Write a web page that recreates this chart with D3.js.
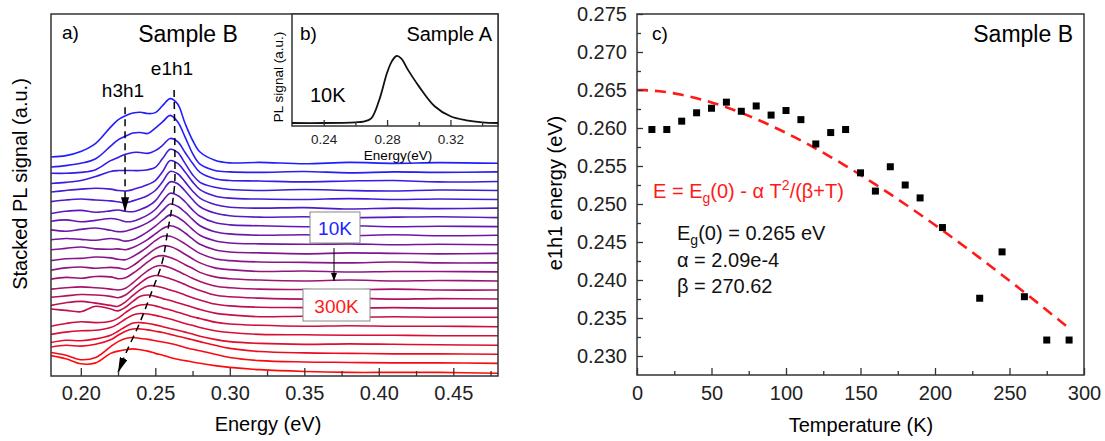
<!DOCTYPE html>
<html>
<head>
<meta charset="utf-8">
<script src="https://cdn.jsdelivr.net/npm/d3@7"></script>
<style>
  body { margin: 0; background: #fff; }
  svg { font-family: "Liberation Sans", Arial, sans-serif; }
</style>
</head>
<body>
<svg id="chart" width="1105" height="441"></svg>
<script>
// ---- panel a) stacked PL spectra, sample B (top row = 10K, bottom row = 300K)
const energyGrid = [0.18,0.19,0.20,0.21,0.22,0.225,0.23,0.235,0.24,0.245,0.25,0.255,0.26,0.265,0.27,0.275,0.28,0.29,0.30,0.32,0.35,0.38,0.41,0.44,0.48];
const spectra = [
  [0.70,0.85,1.30,2.20,4.00,4.80,5.25,5.55,5.65,5.50,5.60,6.40,7.15,6.55,4.40,2.55,1.25,0.35,0.05,0.10,-0.05,0.10,0.00,0.08,0.00],
  [0.60,0.75,1.00,1.50,2.90,3.60,4.00,4.35,4.40,4.30,4.90,5.60,6.30,5.60,3.90,2.10,0.90,0.20,0.05,0.00,0.10,-0.05,0.05,0.00,0.05],
  [0.90,0.90,1.00,1.30,2.30,2.65,3.00,3.20,3.20,3.10,3.40,4.00,4.75,4.40,3.20,2.00,1.00,0.30,0.10,0.05,-0.05,0.05,0.10,-0.05,0.00],
  [0.77,0.90,1.10,1.55,2.10,2.20,2.20,2.20,2.20,2.30,2.55,3.55,4.55,4.20,3.00,1.75,0.90,0.35,0.10,0.00,0.10,0.00,-0.05,0.05,0.00],
  [0.83,1.00,1.15,1.25,1.15,1.00,0.95,1.10,1.35,1.65,2.10,3.10,4.30,4.00,3.05,1.95,1.10,0.40,0.15,0.05,0.00,0.10,0.00,0.05,0.00],
  [0.77,0.95,1.05,0.95,0.85,0.75,0.65,0.85,1.10,1.45,2.00,3.00,4.10,3.85,2.95,1.95,1.15,0.45,0.15,0.05,0.10,-0.05,0.05,0.00,0.05],
  [0.45,0.70,0.80,0.60,0.75,0.85,0.70,0.65,0.90,1.25,1.85,2.95,3.95,3.75,2.95,2.00,1.20,0.50,0.20,0.05,0.10,0.00,0.05,0.10,0.00],
  [0.60,0.75,0.55,0.70,0.90,0.80,0.55,0.60,0.90,1.30,1.90,2.85,3.70,3.45,2.75,1.85,1.15,0.45,0.20,0.10,0.00,0.10,0.00,0.05,0.00],
  [0.65,0.50,0.70,0.85,0.60,0.45,0.50,0.75,1.05,1.45,2.00,2.80,3.50,3.25,2.60,1.80,1.10,0.45,0.20,0.05,0.10,0.00,0.10,0.00,0.05],
  [0.55,0.70,0.60,0.50,0.70,0.60,0.40,0.55,0.95,1.45,2.05,2.75,3.30,3.05,2.45,1.70,1.05,0.45,0.20,0.10,0.05,0.10,0.00,0.05,0.00],
  [0.45,0.60,0.75,0.55,0.50,0.55,0.45,0.70,1.10,1.60,2.20,2.80,3.10,2.85,2.30,1.65,1.05,0.45,0.20,0.10,0.00,0.10,0.05,0.00,0.05],
  [0.25,0.45,0.50,0.65,0.55,0.40,0.35,0.70,1.20,1.80,2.45,2.95,2.95,2.60,2.10,1.55,1.05,0.45,0.25,0.10,0.05,0.00,0.10,0.00,0.00],
  [0.20,0.45,0.55,0.40,0.50,0.45,0.30,0.70,1.30,1.95,2.55,2.90,2.80,2.45,1.95,1.45,1.00,0.45,0.25,0.05,0.10,0.00,0.05,0.05,0.00],
  [0.20,0.40,0.30,0.50,0.45,0.25,0.35,0.85,1.45,2.10,2.65,2.80,2.60,2.25,1.80,1.40,0.95,0.45,0.25,0.10,0.00,0.10,0.00,0.05,0.00],
  [0.10,0.25,0.35,0.25,0.10,0.00,0.20,0.80,1.50,2.15,2.60,2.70,2.45,2.10,1.70,1.30,0.95,0.45,0.25,0.10,0.05,0.00,0.10,0.00,0.00],
  [0.20,0.35,0.50,0.45,0.30,0.15,0.45,1.10,1.80,2.35,2.60,2.50,2.25,1.95,1.60,1.25,0.95,0.45,0.25,0.10,0.00,0.10,0.00,0.05,0.00],
  [0.30,0.60,0.75,0.55,0.30,0.20,0.70,1.40,2.05,2.45,2.45,2.25,2.00,1.75,1.45,1.15,0.90,0.45,0.25,0.10,0.05,0.00,0.05,0.00,0.00],
  [0.90,0.75,0.60,1.20,0.90,0.70,1.10,1.75,2.30,2.45,2.30,2.05,1.85,1.60,1.35,1.10,0.85,0.45,0.25,0.05,0.10,0.00,0.05,0.00,0.00],
  [0.00,0.30,0.50,0.40,0.55,0.90,1.50,2.05,2.35,2.40,2.25,2.00,1.80,1.55,1.30,1.05,0.85,0.45,0.25,0.10,0.00,0.05,0.00,0.00,-0.05],
  [0.10,0.35,0.50,0.55,0.85,1.25,1.80,2.25,2.40,2.35,2.20,2.00,1.80,1.55,1.30,1.10,0.85,0.50,0.30,0.10,0.05,0.00,0.00,-0.05,-0.05],
  [0.20,0.45,0.40,0.60,1.00,1.45,1.95,2.35,2.40,2.30,2.15,1.95,1.75,1.55,1.35,1.15,0.90,0.55,0.30,0.10,0.00,0.05,0.00,-0.05,-0.10],
  [0.70,0.90,0.80,1.00,1.50,2.00,2.45,2.70,2.70,2.60,2.45,2.30,2.10,1.90,1.70,1.50,1.30,0.90,0.55,0.20,0.05,0.00,-0.05,-0.05,-0.10],
  [1.10,0.80,0.30,0.55,1.75,2.30,2.65,2.75,2.65,2.55,2.40,2.25,2.10,1.90,1.65,1.45,1.30,0.90,0.55,0.20,0.05,0.00,-0.05,-0.05,-0.10],
  [1.75,1.40,0.85,0.95,2.00,2.25,2.40,2.50,2.40,2.25,2.00,1.80,1.55,1.35,1.20,1.05,0.90,0.65,0.45,0.20,0.00,-0.10,-0.10,-0.10,-0.20]
];
const energyTicks = [0.20,0.25,0.30,0.35,0.40,0.45];
const energyMinor = [0.225,0.275,0.325,0.375,0.425,0.475];
// guide arrows, in (energy, stacked signal)
const h3h1Guide = [[0.2297,29.7],[0.2297,18.1]];
const e1h1Guide = [[0.2626,31.6],[0.2632,22.2],[0.2612,18.7],[0.2585,16.2],[0.2545,12.5],[0.2471,9.1],[0.2391,5.7],[0.2310,2.8],[0.2250,0.4]];

// ---- panel b) inset, sample A at 10K
const insetEnergy = [0.22,0.24,0.26,0.265,0.27,0.275,0.28,0.283,0.286,0.289,0.293,0.30,0.31,0.32,0.33,0.34,0.35];
const insetSignal = [0.00,0.00,0.01,0.02,0.07,0.34,0.75,0.92,1.00,0.96,0.80,0.55,0.25,0.10,0.04,0.01,0.00];
const insetTicks = [0.24,0.28,0.32];
const insetMinor = [0.26,0.30,0.34];

// ---- panel c) e1h1 energy vs temperature
const temperature = [10,20,30,40,50,60,70,80,90,100,110,120,130,140,150,160,170,180,190,205,230,245,260,275,290];
const e1h1Energy = [0.2598,0.2598,0.2609,0.2620,0.2626,0.2634,0.2622,0.2629,0.2617,0.2623,0.2611,0.2579,0.2594,0.2598,0.2541,0.2517,0.2549,0.2525,0.2508,0.2469,0.2376,0.2437,0.2378,0.2321,0.2321];
const fitEg0 = 0.265, fitAlpha = 2.09e-4, fitBeta = 270.62;
const tempTicks = [0,50,100,150,200,250,300];
const tempMinor = [25,75,125,175,225,275];
const eTicks = [0.230,0.235,0.240,0.245,0.250,0.255,0.260,0.265,0.270,0.275];
const eMinor = [0.2325,0.2375,0.2425,0.2475,0.2525,0.2575,0.2625,0.2675,0.2725];

const svg = d3.select("#chart");
const frameColor = "#333";
const defs = svg.append("defs");
function marker(id, len, wid, color){
  defs.append("marker").attr("id", id)
    .attr("viewBox", `0 0 ${len} ${wid}`).attr("refX", len).attr("refY", wid/2)
    .attr("markerWidth", len).attr("markerHeight", wid)
    .attr("markerUnits", "userSpaceOnUse").attr("orient", "auto")
    .append("path").attr("d", `M0,0L${len},${wid/2}L0,${wid}Z`).attr("fill", color);
}
marker("headBig", 15, 8, "#000");
marker("headSmall", 8, 6, "#000");

// ================= panel a =================
const xA = d3.scaleLinear([0.18, 0.48], [51, 498]);
const yA = d3.scaleLinear([0, 40], [376, 14]);
defs.append("clipPath").attr("id", "clipA").append("rect")
  .attr("x", 51).attr("y", 14).attr("width", 447).attr("height", 362);

const color = d3.interpolateRgb("rgb(30,30,255)", "rgb(255,10,10)");
const nCurves = spectra.length;
const lineA = d3.line().curve(d3.curveCatmullRom.alpha(0.5));
const gCurves = svg.append("g").attr("clip-path", "url(#clipA)");
spectra.forEach((row, i) => {
  const base = (nCurves - 1 - i) + 0.5;
  gCurves.append("path")
    .attr("d", lineA(row.map((v, k) => [xA(energyGrid[k]), yA(v + base)])))
    .attr("fill", "none").attr("stroke", color(i / (nCurves - 1)))
    .attr("stroke-width", 1.6);
});

const guideLine = d3.line().x(d => xA(d[0])).y(d => yA(d[1]));
svg.append("path").attr("d", guideLine(h3h1Guide))
  .attr("fill", "none").attr("stroke", "#000").attr("stroke-width", 1.5)
  .attr("stroke-dasharray", "7,5").attr("marker-end", "url(#headBig)");
svg.append("path").attr("d", d3.line().curve(d3.curveMonotoneY).x(d => xA(d[0])).y(d => yA(d[1]))(e1h1Guide))
  .attr("fill", "none").attr("stroke", "#000").attr("stroke-width", 1.5)
  .attr("stroke-dasharray", "7,5").attr("marker-end", "url(#headBig)");

// axis a
const axA = svg.append("g").attr("transform", "translate(0,376)")
  .call(d3.axisBottom(xA).tickValues(energyTicks).tickFormat(d3.format(".2f"))
    .tickSizeInner(-8).tickSizeOuter(0).tickPadding(10));
svg.append("g").attr("transform", "translate(0,376)")
  .call(d3.axisBottom(xA).tickValues(energyMinor).tickFormat("").tickSizeInner(-5).tickSizeOuter(0));
svg.append("rect").attr("x", 51).attr("y", 14).attr("width", 447).attr("height", 362)
  .attr("fill", "none").attr("stroke", frameColor).attr("stroke-width", 1.5);

svg.append("text").attr("x", 268).attr("y", 431).attr("text-anchor", "middle")
  .attr("font-size", 20).text("Energy (eV)");
svg.append("text").attr("transform", "translate(27,184) rotate(-90)").attr("text-anchor", "middle")
  .attr("font-size", 20).text("Stacked PL signal (a.u.)");
svg.append("text").attr("x", 62).attr("y", 39).attr("font-size", 19).text("a)");
svg.append("text").attr("x", 188).attr("y", 42).attr("text-anchor", "middle").attr("font-size", 23).text("Sample B");
svg.append("text").attr("x", 172).attr("y", 75).attr("text-anchor", "middle").attr("font-size", 19).text("e1h1");
svg.append("text").attr("x", 123).attr("y", 97).attr("text-anchor", "middle").attr("font-size", 19).text("h3h1");

// temperature labels
svg.append("rect").attr("x", 310).attr("y", 212).attr("width", 50).attr("height", 31)
  .attr("fill", "#fff").attr("stroke", "#888").attr("stroke-width", 1);
svg.append("text").attr("x", 335).attr("y", 235).attr("text-anchor", "middle")
  .attr("font-size", 19).attr("fill", "#2222ff").text("10K");
svg.append("line").attr("x1", 334).attr("y1", 248).attr("x2", 334).attr("y2", 281)
  .attr("stroke", "#000").attr("stroke-width", 1).attr("marker-end", "url(#headSmall)");
svg.append("rect").attr("x", 303).attr("y", 289).attr("width", 67).attr("height", 32)
  .attr("fill", "#fff").attr("stroke", "#888").attr("stroke-width", 1);
svg.append("text").attr("x", 336.5).attr("y", 313).attr("text-anchor", "middle")
  .attr("font-size", 19).attr("fill", "#ff1a1a").text("300K");

// ================= panel b (inset) =================
const xI = d3.scaleLinear([0.22, 0.35], [292, 498]);
const yI = d3.scaleLinear([-0.045, 1.627], [126, 14]);
svg.append("rect").attr("x", 292).attr("y", 14).attr("width", 206).attr("height", 112)
  .attr("fill", "#fff").attr("stroke", frameColor).attr("stroke-width", 1.5);
svg.append("path")
  .attr("d", d3.line().curve(d3.curveCatmullRom.alpha(0.5))(insetEnergy.map((e, k) => [xI(e), yI(insetSignal[k])])))
  .attr("fill", "none").attr("stroke", "#111").attr("stroke-width", 1.8);
const axI = svg.append("g").attr("transform", "translate(0,126)")
  .call(d3.axisBottom(xI).tickValues(insetTicks).tickFormat(d3.format(".2f"))
    .tickSizeInner(-6).tickSizeOuter(0).tickPadding(8));
svg.append("g").attr("transform", "translate(0,126)")
  .call(d3.axisBottom(xI).tickValues(insetMinor).tickFormat("").tickSizeInner(-4).tickSizeOuter(0));
axI.selectAll("text").attr("font-size", 13.5);
svg.append("text").attr("x", 398).attr("y", 160).attr("text-anchor", "middle").attr("font-size", 13.5).text("Energy(eV)");
svg.append("text").attr("transform", "translate(283,77) rotate(-90)").attr("text-anchor", "middle")
  .attr("font-size", 13.5).text("PL signal (a.u.)");
svg.append("text").attr("x", 300).attr("y", 40).attr("font-size", 19).text("b)");
svg.append("text").attr("x", 492).attr("y", 41).attr("text-anchor", "end").attr("font-size", 20).text("Sample A");
svg.append("text").attr("x", 310).attr("y", 102).attr("font-size", 20).text("10K");

// ================= panel c =================
const xC = d3.scaleLinear([0, 300], [637, 1084]);
const yC = d3.scaleLinear([0.2275, 0.275], [375, 14]);
const fitT = d3.range(0, 291, 5);
svg.append("path")
  .attr("d", d3.line().x(t => xC(t)).y(t => yC(fitEg0 - fitAlpha * t * t / (fitBeta + t)))(fitT))
  .attr("fill", "none").attr("stroke", "#ff1a1a").attr("stroke-width", 2.6)
  .attr("stroke-dasharray", "11,7");
svg.append("g").selectAll("rect").data(temperature).join("rect")
  .attr("x", (t) => xC(t) - 3.5).attr("y", (t, i) => yC(e1h1Energy[i]) - 3.5)
  .attr("width", 7).attr("height", 7).attr("fill", "#000");

const axCx = svg.append("g").attr("transform", "translate(0,375)")
  .call(d3.axisBottom(xC).tickValues(tempTicks).tickFormat(d3.format("d"))
    .tickSizeInner(-7).tickSizeOuter(0).tickPadding(11));
svg.append("g").attr("transform", "translate(0,375)")
  .call(d3.axisBottom(xC).tickValues(tempMinor).tickFormat("").tickSizeInner(-4).tickSizeOuter(0));
const axCy = svg.append("g").attr("transform", "translate(637,0)")
  .call(d3.axisLeft(yC).tickValues(eTicks).tickFormat(d3.format(".3f"))
    .tickSizeInner(-6).tickSizeOuter(0).tickPadding(10));
svg.append("g").attr("transform", "translate(637,0)")
  .call(d3.axisLeft(yC).tickValues(eMinor).tickFormat("").tickSizeInner(-4).tickSizeOuter(0));
svg.append("rect").attr("x", 637).attr("y", 14).attr("width", 447).attr("height", 361)
  .attr("fill", "none").attr("stroke", frameColor).attr("stroke-width", 1.5);

svg.append("text").attr("x", 861).attr("y", 432).attr("text-anchor", "middle")
  .attr("font-size", 20).text("Temperature (K)");
svg.append("text").attr("transform", "translate(562,193) rotate(-90)").attr("text-anchor", "middle")
  .attr("font-size", 20).text("e1h1 energy (eV)");
svg.append("text").attr("x", 652).attr("y", 40).attr("font-size", 19).text("c)");
svg.append("text").attr("x", 1073).attr("y", 42).attr("text-anchor", "end").attr("font-size", 23).text("Sample B");

const formula = svg.append("text").attr("x", 653).attr("y", 198).attr("font-size", 20).attr("fill", "#ff1a1a");
formula.append("tspan").text("E = E");
formula.append("tspan").attr("dy", 5).attr("font-size", 14).text("g");
formula.append("tspan").attr("dy", -5).text("(0) - \u03b1 T");
formula.append("tspan").attr("dy", -8).attr("font-size", 14).text("2");
formula.append("tspan").attr("dy", 8).text("/(\u03b2+T)");

const p1 = svg.append("text").attr("x", 677).attr("y", 240).attr("font-size", 20).attr("fill", "#111");
p1.append("tspan").text("E");
p1.append("tspan").attr("dy", 5).attr("font-size", 14).text("g");
p1.append("tspan").attr("dy", -5).text("(0) = 0.265 eV");
svg.append("text").attr("x", 677).attr("y", 267).attr("font-size", 20).attr("fill", "#111").text("\u03b1 = 2.09e-4");
svg.append("text").attr("x", 677).attr("y", 293).attr("font-size", 20).attr("fill", "#111").text("\u03b2 = 270.62");

// common axis styling
svg.selectAll(".domain").remove();
svg.selectAll(".tick line").attr("stroke", frameColor).attr("stroke-width", 1.3);
[axA, axCx, axCy].forEach(g => g.selectAll("text").attr("font-size", 20).attr("fill", "#222")
  .style("font-family", "'Liberation Sans', Arial, sans-serif"));
axI.selectAll("text").attr("fill", "#222").style("font-family", "'Liberation Sans', Arial, sans-serif");
</script>
</body>
</html>
